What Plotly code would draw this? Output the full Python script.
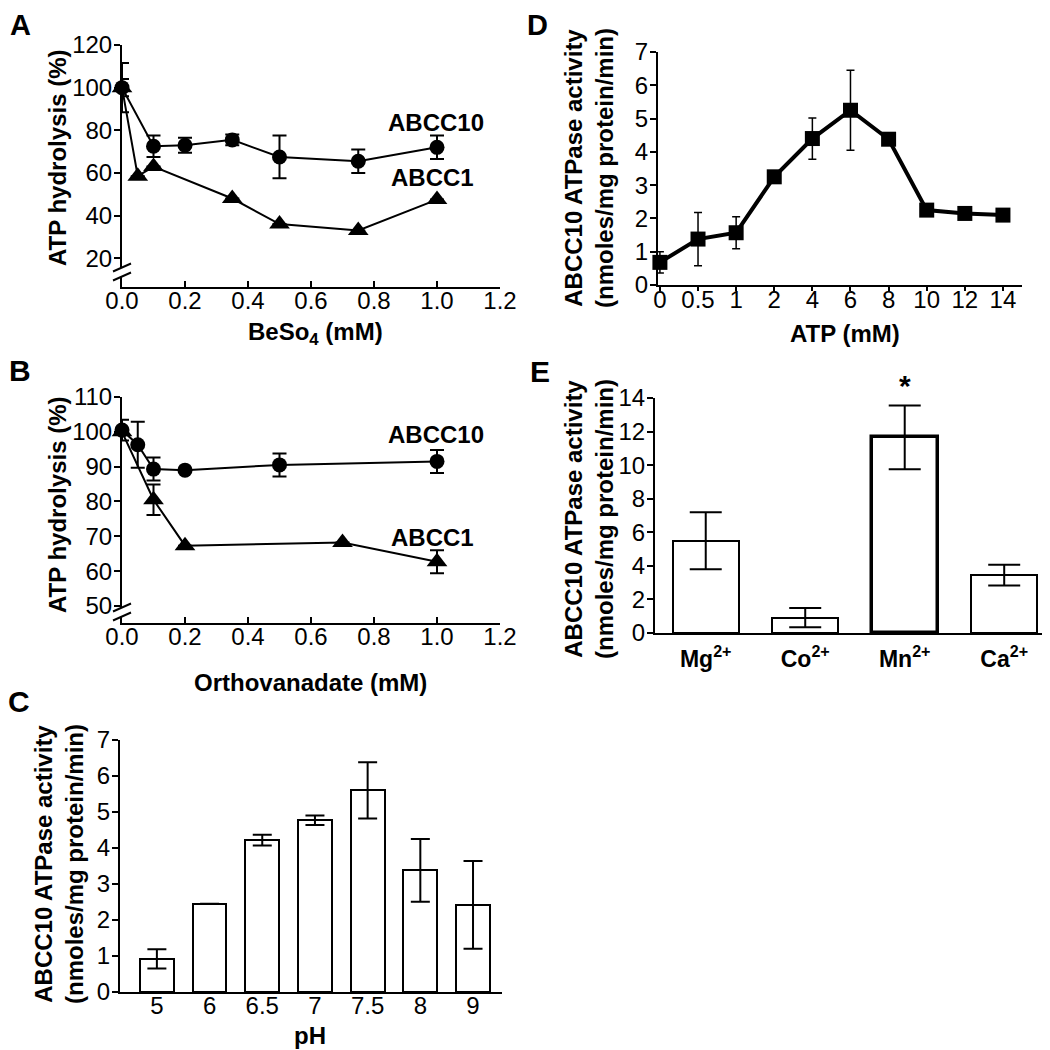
import plotly.graph_objects as go

# ---------------- data ----------------
# Panel A: BeSO4
A_x_abcc10 = [0, 0.1, 0.2, 0.35, 0.5, 0.75, 1.0]
A_y_abcc10 = [100, 72.5, 73, 75.5, 67.5, 65.5, 72]
A_e_abcc10 = [11.5, 5, 3.5, 2.5, 10, 5.5, 5.5]
A_x_abcc1 = [0, 0.05, 0.1, 0.35, 0.5, 0.75, 1.0]
A_y_abcc1 = [100, 58.5, 63, 48, 36, 33, 47.5]
A_e_abcc1 = [4, 0, 0, 0, 0, 0, 0]

# Panel B: Orthovanadate
B_x_abcc10 = [0, 0.05, 0.1, 0.2, 0.5, 1.0]
B_y_abcc10 = [100.5, 96.3, 89.3, 89, 90.5, 91.5]
B_e_abcc10 = [3, 6.6, 3.3, 0, 3.3, 3.3]
B_x_abcc1 = [0, 0.1, 0.2, 0.7, 1.0]
B_y_abcc1 = [100, 80.5, 67.3, 68.2, 62.7]
B_e_abcc1 = [0, 4.4, 0, 0, 3.3]

# Panel C: pH
C_ph = ["5", "6", "6.5", "7", "7.5", "8", "9"]
C_val = [0.92, 2.45, 4.22, 4.77, 5.6, 3.38, 2.42]
C_err = [0.27, 0, 0.15, 0.13, 0.78, 0.87, 1.22]

# Panel D: ATP concentration
D_atp = ["0", "0.5", "1", "2", "4", "6", "8", "10", "12", "14"]
D_val = [0.68, 1.38, 1.57, 3.25, 4.4, 5.25, 4.38, 2.25, 2.15, 2.1]
D_err = [0.32, 0.8, 0.48, 0, 0.62, 1.2, 0, 0, 0, 0]

# Panel E: divalent cations
E_ion = ["Mg<sup>2+</sup>", "Co<sup>2+</sup>", "Mn<sup>2+</sup>", "Ca<sup>2+</sup>"]
E_val = [5.5, 0.92, 11.65, 3.45]
E_err = [1.7, 0.57, 1.9, 0.62]
E_line = [2, 2, 3.5, 2]

# ---------------- layout helpers ----------------
OFF = 8            # page body margin in the browser
W = H = 1042
FONT = "Liberation Sans, Arial, Helvetica, sans-serif"


def px2x(p):
    return (p - OFF) / W


def px2y(p):
    return 1 - (p - OFF) / H


def xd(a, b):
    return [px2x(a), px2x(b)]


def yd(top, bottom):
    return [px2y(bottom), px2y(top)]


fig = go.Figure()

line_style = dict(color="black", width=2)
err_style = dict(type="data", color="black", thickness=2, width=7, visible=True)

# Panel A
fig.add_trace(go.Scatter(x=A_x_abcc10, y=A_y_abcc10, mode="lines+markers",
                         line=line_style, marker=dict(symbol="circle", size=15, color="black"),
                         error_y=dict(array=A_e_abcc10, **err_style),
                         xaxis="x", yaxis="y", cliponaxis=False, showlegend=False))
fig.add_trace(go.Scatter(x=A_x_abcc1, y=A_y_abcc1, mode="lines+markers",
                         line=line_style, marker=dict(symbol="triangle-up", size=18, color="black"),
                         error_y=dict(array=A_e_abcc1, **err_style),
                         xaxis="x", yaxis="y", cliponaxis=False, showlegend=False))
# Panel B
fig.add_trace(go.Scatter(x=B_x_abcc10, y=B_y_abcc10, mode="lines+markers",
                         line=line_style, marker=dict(symbol="circle", size=15, color="black"),
                         error_y=dict(array=B_e_abcc10, **err_style),
                         xaxis="x2", yaxis="y2", cliponaxis=False, showlegend=False))
fig.add_trace(go.Scatter(x=B_x_abcc1, y=B_y_abcc1, mode="lines+markers",
                         line=line_style, marker=dict(symbol="triangle-up", size=18, color="black"),
                         error_y=dict(array=B_e_abcc1, **err_style),
                         xaxis="x2", yaxis="y2", cliponaxis=False, showlegend=False))
# Panel C
fig.add_trace(go.Bar(x=C_ph, y=C_val, width=0.64,
                     marker=dict(color="white", line=dict(color="black", width=2)),
                     error_y=dict(type="data", array=C_err, color="black", thickness=2, width=9.5),
                     xaxis="x3", yaxis="y3", showlegend=False))
# Panel D
fig.add_trace(go.Scatter(x=D_atp, y=D_val, mode="lines+markers",
                         line=dict(color="black", width=4),
                         marker=dict(symbol="square", size=15, color="black"),
                         error_y=dict(type="data", array=D_err, color="black", thickness=1.5, width=4),
                         xaxis="x4", yaxis="y4", cliponaxis=False, showlegend=False))
# Panel E
fig.add_trace(go.Bar(x=E_ion, y=E_val, width=0.665,
                     marker=dict(color="white", line=dict(color="black", width=E_line)),
                     error_y=dict(type="data", array=E_err, color="black", thickness=2, width=16),
                     xaxis="x5", yaxis="y5", showlegend=False))

tickfont = dict(family=FONT, size=24, color="black")
ax_common = dict(showline=True, linecolor="black", linewidth=2, showgrid=False, automargin=False,
                 zeroline=False, tickfont=tickfont, tickcolor="black", tickwidth=2)
ytick = dict(ticks="outside", ticklen=6, ticklabelstandoff=-3)

fig.update_layout(
    width=W, height=H, margin=dict(l=0, r=0, t=0, b=0, pad=0, autoexpand=False),
    paper_bgcolor="white", plot_bgcolor="white",
    font=dict(family=FONT, color="black"),
    bargap=0,
    # A
    xaxis=dict(domain=xd(122, 500), anchor="y", range=[0, 1.2], tickvals=[0, 0.2, 0.4, 0.6, 0.8, 1.0, 1.2],
               ticktext=["0.0", "0.2", "0.4", "0.6", "0.8", "1.0", "1.2"], ticks="inside", ticklen=6,
               ticklabelstandoff=-9, **ax_common),
    yaxis=dict(domain=yd(45, 287), anchor="x", range=[6.5, 120], tickvals=[20, 40, 60, 80, 100, 120],
               **ytick, **ax_common),
    # B
    xaxis2=dict(domain=xd(122, 500), anchor="y2", range=[0, 1.2], tickvals=[0, 0.2, 0.4, 0.6, 0.8, 1.0, 1.2],
                ticktext=["0.0", "0.2", "0.4", "0.6", "0.8", "1.0", "1.2"], ticks="inside", ticklen=6,
                ticklabelstandoff=-9, **ax_common),
    yaxis2=dict(domain=yd(397, 623), anchor="x2", range=[45.1, 110], tickvals=[50, 60, 70, 80, 90, 100, 110],
                **ytick, **ax_common),
    # C
    xaxis3=dict(domain=xd(120, 502), anchor="y3", type="category", range=[-0.7, 6.55], ticks="",
                ticklabelstandoff=-9, **ax_common),
    yaxis3=dict(domain=yd(740, 992), anchor="x3", range=[0, 7], dtick=1, **ytick, **ax_common),
    # D
    xaxis4=dict(domain=xd(658, 1022), anchor="y4", type="category", range=[-0.05, 9.5], ticks="outside",
                ticklen=4, ticklabelstandoff=-12, **ax_common),
    yaxis4=dict(domain=yd(52, 285), anchor="x4", range=[0, 7], dtick=1, **ytick, **ax_common),
    # E
    xaxis5=dict(domain=xd(655, 1045), anchor="y5", type="category", range=[-0.51, 3.41], ticks="",
                ticklabelstandoff=4,
                **{**ax_common, "tickfont": dict(family=FONT, size=23, color="black", weight="bold")}),
    yaxis5=dict(domain=yd(398, 633), anchor="x5", range=[0, 14], dtick=2, **ytick, **ax_common),
)


def ann(text, px, py, size=24, angle=0, bold=True, yanchor="middle"):
    fig.add_annotation(text=text, x=px2x(px), y=px2y(py), xref="paper", yref="paper",
                       showarrow=False, textangle=angle, xanchor="center", yanchor=yanchor, borderpad=0,
                       font=dict(family=FONT, size=size, color="black", weight="bold" if bold else "normal"))


# panel letters (top ones anchored to the top edge so they are not clipped)
ann("A", 20, OFF, size=29, yanchor="top")
ann("B", 20, 370, size=30)
ann("C", 19, 702, size=30)
ann("D", 537, OFF, size=29, yanchor="top")
ann("E", 540, 372, size=30)

# axis titles
ann("ATP hydrolysis (%)", 57, 158, angle=-90)
ann("BeSo<sub>4</sub> (mM)", 315, 333)
ann("ATP hydrolysis (%)", 57, 505, angle=-90)
ann("Orthovanadate (mM)", 310, 682)
ann("ABCC10 ATPase activity<br>(nmoles/mg protein/min)", 59, 864, angle=-90)
ann("pH", 310, 1035)
ann("ABCC10 ATPase activity<br>(nmoles/mg protein/min)", 589, 168, angle=-90)
ann("ATP (mM)", 845, 333)
ann("ABCC10 ATPase activity<br>(nmoles/mg protein/min)", 589, 519, angle=-90)

# series labels
ann("ABCC10", 436, 122)
ann("ABCC1", 432, 178)
ann("ABCC10", 436, 435)
ann("ABCC1", 432, 537)

# significance asterisk above Mn bar
fig.add_annotation(text="*", x=E_ion[2], y=E_val[2] + E_err[2], xref="x5", yref="y5",
                   showarrow=False, yanchor="bottom", yshift=2,
                   font=dict(family=FONT, size=30, color="black", weight="bold"))


# axis break marks
def axis_break(px, py):
    # white gap on the axis, then two slashes
    fig.add_shape(type="rect", x0=px2x(px - 3), x1=px2x(px + 3), y0=px2y(py + 5), y1=px2y(py - 4),
                  xref="paper", yref="paper", fillcolor="white", line=dict(width=0))
    for dy in (-4.5, 4.5):
        fig.add_shape(type="line", x0=px2x(px - 9), x1=px2x(px + 9),
                      y0=px2y(py + dy + 4), y1=px2y(py + dy - 4),
                      xref="paper", yref="paper", line=dict(color="black", width=2))


axis_break(122, 272)
axis_break(122, 612)

fig.write_html("out.html")
